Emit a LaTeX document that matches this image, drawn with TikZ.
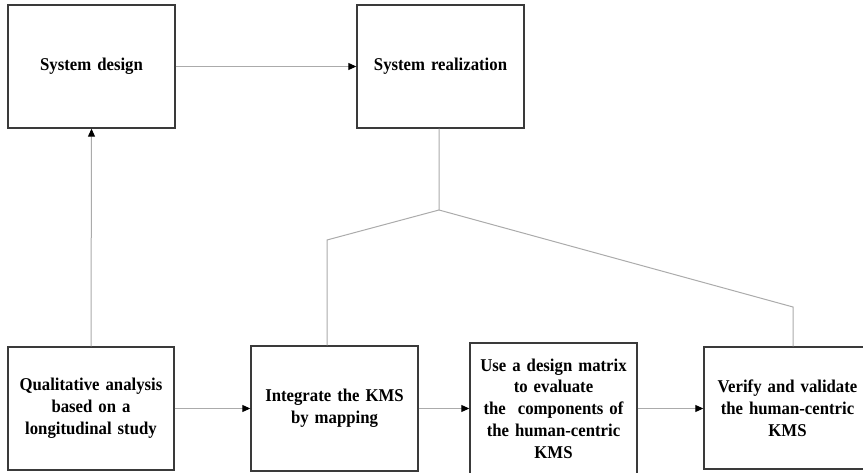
\documentclass[tikz,border=0pt]{standalone}
\usepackage{fontspec}
\setmainfont{Liberation Serif}[FakeStretch=0.93]
\usetikzlibrary{arrows.meta}
\definecolor{boxline}{HTML}{3A3A3A}
\definecolor{conn}{HTML}{ABABAB}
\tikzset{
  box/.style={draw=boxline, line width=1.4pt, fill=white, align=center, inner sep=0pt,
    font=\fontsize{18}{21.8}\selectfont\bfseries, text width=#1},
  box/.default=163pt,
  link/.style={draw=conn, line width=1pt},
  arr/.style={link, -{Triangle[length=8pt,width=7pt,black]}}
}
\begin{document}
\begin{tikzpicture}[x=1pt,y=-1pt]
\useasboundingbox (0,0) rectangle (863,473);
\begin{scope}
\clip (0,0) rectangle (863,473);
\node[box, minimum width=167pt, minimum height=123pt] (design) at (91.5,66.5) {System design};
\node[box, minimum width=167pt, minimum height=123pt] (real) at (440.5,66.5) {System realization};
\node[box, minimum width=166pt, minimum height=123pt] (qual) at (91,408.5) {Qualitative analysis\\based on a\\longitudinal study};
\node[box, minimum width=167pt, minimum height=125pt] (integ) at (334.5,408.5) {Integrate the KMS\\by mapping};
\node[box, minimum width=167pt, minimum height=131pt] (use) at (553.5,408.5) {Use a design matrix\\to evaluate\\the\ \ components of\\the human-centric\\KMS};
\node[box, minimum width=167pt, minimum height=122pt] (ver) at (787.5,408) {Verify and validate\\the human-centric\\KMS};

\coordinate (junc) at (439,210);
\coordinate (lbend) at (327,240);
\coordinate (rbend) at (793,307);

\draw[arr] (design.east) -- (real.west);
\draw[arr] (qual.north) -- (design.south);
\draw[link] (real.south -| junc) -- (junc) -- (lbend) -- (lbend |- integ.north);
\draw[link] (junc) -- (rbend) -- (rbend |- ver.north);
\draw[arr] (qual.east) -- (qual.east -| integ.west);
\draw[arr] (integ.east) -- (integ.east -| use.west);
\draw[arr] (use.east) -- (use.east -| ver.west);
\end{scope}
\end{tikzpicture}
\end{document}
